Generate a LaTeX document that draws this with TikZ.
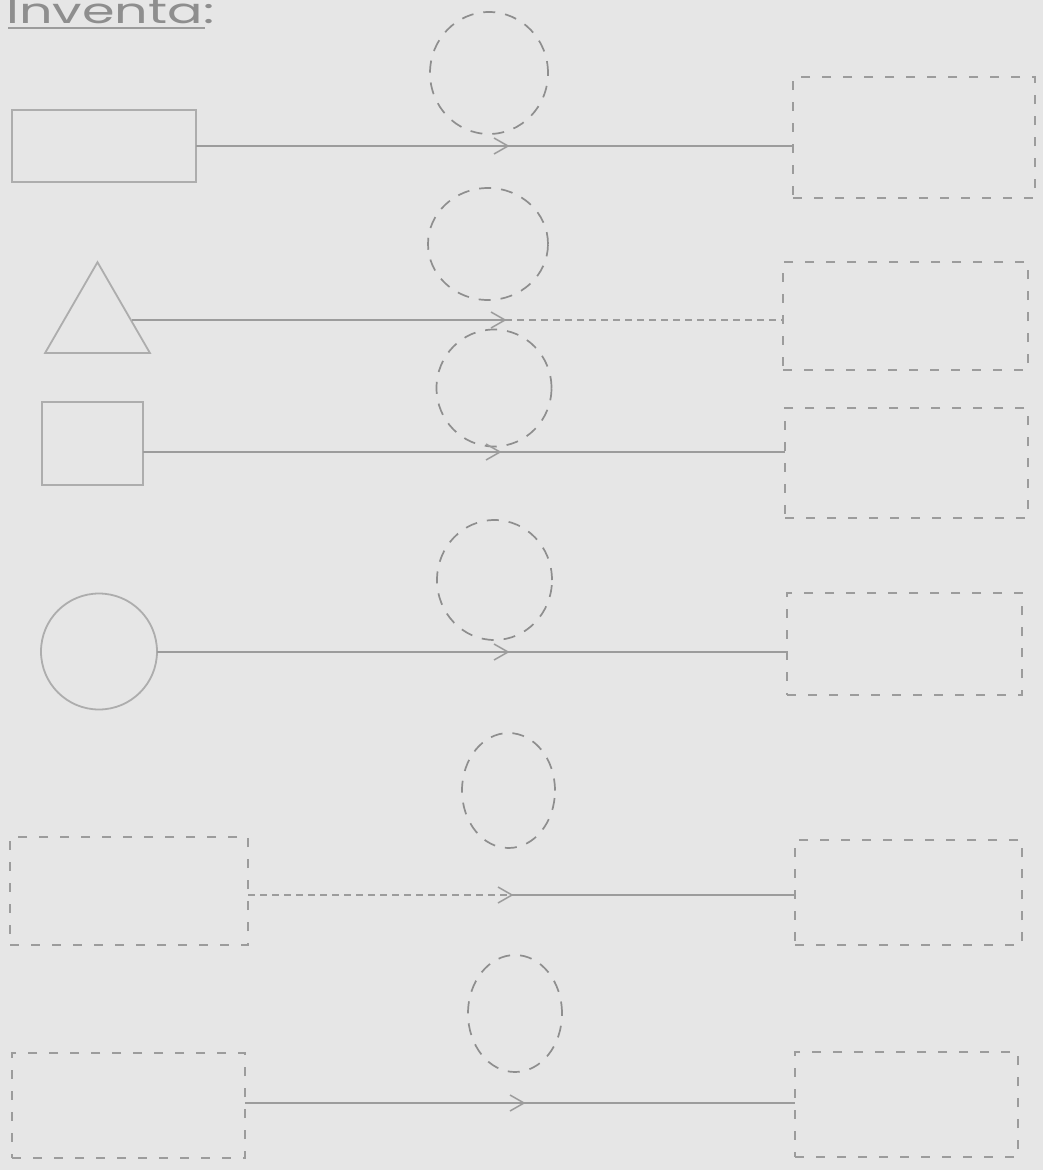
\documentclass[tikz,border=0pt]{standalone}
\usepackage{fontspec}
\setmainfont{Poppins}
\usetikzlibrary{shapes.geometric}
\definecolor{paper}{HTML}{E6E6E6}
\definecolor{pencil}{HTML}{9C9C9C}
\definecolor{pencilD}{HTML}{8E8E8E}
\definecolor{pencilL}{HTML}{ADADAD}
\begin{document}
\begin{tikzpicture}[x=1pt,y=-1pt,
  solidshape/.style={draw=pencilL, line width=1.8pt, inner sep=0pt, outer sep=0pt},
  dashbox/.style={draw=pencil, line width=1.4pt, dash pattern=on 9pt off 12pt, rectangle, inner sep=0pt, outer sep=0pt},
  dashring/.style={draw=pencilD, line width=1.7pt, dash pattern=on 12pt off 10pt, ellipse, inner sep=0pt, outer sep=0pt},
  link/.style={draw=pencil, line width=1.5pt},
  linkdash/.style={draw=pencil, line width=1.5pt, dash pattern=on 7pt off 5pt},
  chevron/.pic={\draw[pencil, line width=1.5pt] (-14,-8) -- (0,0) -- (-14,8);}
]
\fill[paper] (0,0) rectangle (1043,1170);
\useasboundingbox (0,0) rectangle (1043,1170);

% title
\node[anchor=base west, text=pencilD, xscale=1.5, inner sep=0pt, font=\fontsize{35}{35}\selectfont] (title) at (6,23) {Inventa:};
\draw[pencil, line width=1.6pt] (8,28) -- (205,28);

% row 1
\node[solidshape, rectangle, minimum width=184, minimum height=72] (l1) at (104,146) {};
\node[dashbox, minimum width=242, minimum height=121] (r1) at (914,137.5) {};
\node[dashring, minimum width=118, minimum height=122] (c1) at (489,73) {};
\coordinate (a1) at (508,146);
\draw[link] (a1 -| l1.east) -- (a1 -| r1.west);
\pic at (a1) {chevron};

% row 2
\node[solidshape, regular polygon, regular polygon sides=3, minimum size=121] (l2) at (97.5,322.7) {};
\node[dashbox, minimum width=245, minimum height=108] (r2) at (905.5,316) {};
\node[dashring, minimum width=120, minimum height=112] (c2) at (488,244) {};
\coordinate (a2) at (505,320);
\draw[link] (a2 -| l2.east) -- (a2);
\draw[linkdash] (a2) -- (a2 -| r2.west);
\pic at (a2) {chevron};

% row 3
\node[solidshape, rectangle, minimum width=101, minimum height=83] (l3) at (92.5,443.5) {};
\node[dashbox, minimum width=243, minimum height=110] (r3) at (906.5,463) {};
\node[dashring, minimum width=115, minimum height=117] (c3) at (494,388) {};
\coordinate (a3) at (500,452);
\draw[link] (a3 -| l3.east) -- (a3 -| r3.west);
\pic at (a3) {chevron};

% row 4
\node[solidshape, circle, minimum size=116] (l4) at (99,651.5) {};
\node[dashbox, minimum width=235, minimum height=102] (r4) at (904.5,644) {};
\node[dashring, minimum width=115, minimum height=120] (c4) at (494.5,580) {};
\coordinate (a4) at (508,652);
\draw[link] (a4 -| l4.east) -- (a4 -| r4.west);
\pic at (a4) {chevron};

% row 5
\node[dashbox, minimum width=238, minimum height=108] (l5) at (129,891) {};
\node[dashbox, minimum width=227, minimum height=105] (r5) at (908.5,892.5) {};
\node[dashring, minimum width=93, minimum height=115] (c5) at (508.5,790.5) {};
\coordinate (a5) at (512,895);
\draw[linkdash] (a5 -| l5.east) -- (a5);
\draw[link] (a5) -- (a5 -| r5.west);
\pic at (a5) {chevron};

% row 6
\node[dashbox, minimum width=233, minimum height=105] (l6) at (128.5,1105.5) {};
\node[dashbox, minimum width=223, minimum height=105] (r6) at (906.5,1104.5) {};
\node[dashring, minimum width=94, minimum height=117] (c6) at (515,1013.5) {};
\coordinate (a6) at (524,1103);
\draw[link] (a6 -| l6.east) -- (a6 -| r6.west);
\pic at (a6) {chevron};
\end{tikzpicture}
\end{document}
